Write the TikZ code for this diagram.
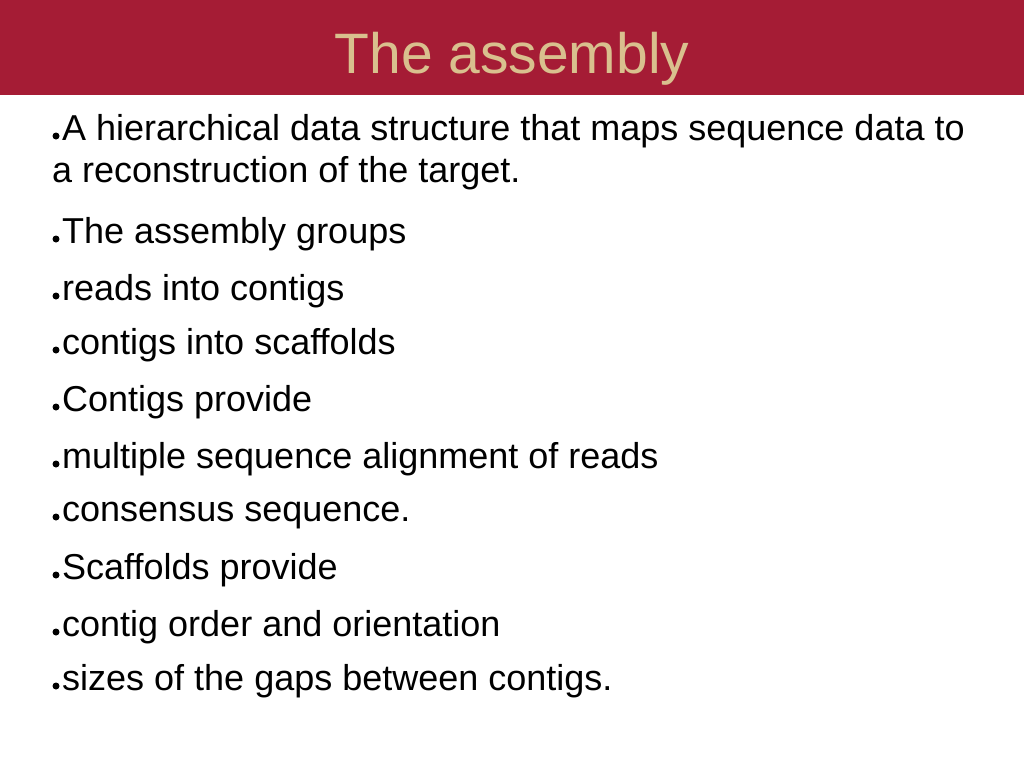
\documentclass[tikz,border=0pt]{standalone}
\usepackage{fontspec}
\setmainfont{Liberation Sans}
\definecolor{band}{HTML}{A51C35}
\definecolor{titlec}{HTML}{D9C08E}
\begin{document}
\begin{tikzpicture}[x=1pt,y=-1pt,
  txt/.style={anchor=base west,inner sep=0pt,font=\fontsize{36}{42}\selectfont},
  dot/.style={fill=black,circle,inner sep=0pt,minimum size=7pt}]
\useasboundingbox (0,0) rectangle (1024,768);
\fill[band] (0,0) rectangle (1024,95);
\node[anchor=base,inner sep=0pt,text=titlec,font=\fontsize{57}{66}\selectfont] (title) at (512,73) {The assembly};
\foreach \n/\y/\t in {a/140/{A hierarchical data structure that maps sequence data to},
  c/243/{The assembly groups},d/300/{reads into contigs},e/354/{contigs into scaffolds},
  f/411/{Contigs provide},g/468/{multiple sequence alignment of reads},h/521/{consensus sequence.},
  i/579/{Scaffolds provide},j/636/{contig order and orientation},k/690/{sizes of the gaps between contigs.}}{
  \node[dot] (d\n) at (56,\y-4) {};
  \node[txt] (\n) at (62,\y) {\t};
}
\node[txt] (b) at (52,182) {a reconstruction of the target.};
\end{tikzpicture}
\end{document}
